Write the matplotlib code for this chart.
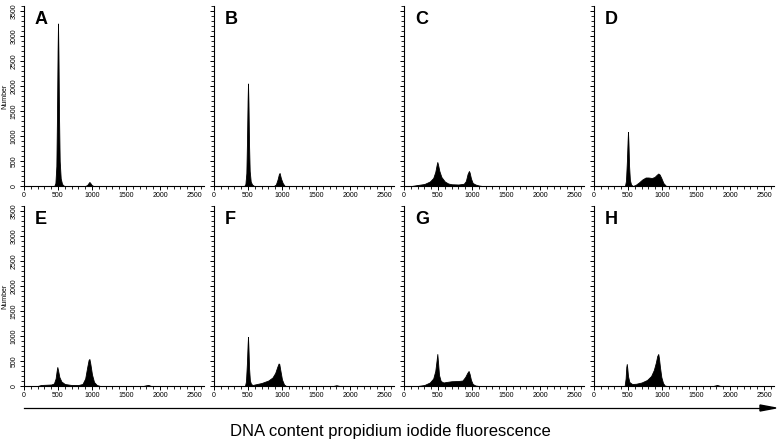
import matplotlib.pyplot as plt
from matplotlib.ticker import MultipleLocator

plt.rcParams['font.family'] = ['Liberation Sans', 'DejaVu Sans']

# Histogramas de contenido de ADN (valores estimados de la figura)
panel_labels = ['A', 'B', 'C', 'D', 'E', 'F', 'G', 'H']

A_x = [0, 445, 462, 476, 486, 494, 500, 507, 515, 525, 540, 560, 590, 900, 930, 950, 962, 975, 995, 1020, 2600]
A_y = [0, 0, 60, 400, 1500, 2700, 3250, 2600, 1400, 500, 150, 40, 0, 0, 20, 60, 80, 60, 20, 0, 0]

B_x = [0, 445, 462, 476, 486, 494, 500, 507, 515, 525, 540, 560, 590, 880, 910, 935, 955, 965, 985, 1010, 1040, 2600]
B_y = [0, 0, 40, 260, 950, 1700, 2050, 1650, 850, 300, 90, 30, 0, 0, 30, 130, 240, 260, 150, 60, 0, 0]

C_x = [0, 110, 200, 300, 380, 430, 460, 480, 490, 500, 520, 550, 600, 650, 700, 800, 880, 910, 935, 955,
       965, 985, 1010, 1050, 1100, 1150, 2600]
C_y = [0, 0, 20, 40, 90, 160, 280, 420, 480, 430, 300, 180, 90, 50, 35, 30, 45, 100, 240, 300,
       270, 150, 60, 30, 10, 0, 0]

D_x = [0, 455, 470, 484, 494, 500, 507, 516, 528, 545, 570, 610, 660, 710, 760, 800, 850, 890, 920, 945, 965,
       990, 1020, 1060, 2600]
D_y = [0, 0, 100, 500, 900, 1080, 850, 400, 120, 30, 0, 20, 70, 130, 170, 170, 160, 180, 220, 250, 230,
       160, 60, 0, 0]

E_x = [0, 200, 250, 400, 440, 465, 480, 490, 500, 520, 550, 600, 700, 800, 860, 900, 930, 950, 962, 975,
       1000, 1030, 1070, 1120, 1750, 1800, 1830, 1870, 2600]
E_y = [0, 0, 20, 30, 50, 150, 300, 380, 320, 180, 90, 40, 20, 20, 40, 150, 380, 520, 540, 450,
       230, 80, 20, 0, 0, 15, 20, 0, 0]

F_x = [0, 455, 470, 484, 494, 500, 507, 516, 528, 545, 570, 600, 700, 800, 860, 900, 930, 950, 960, 975, 1000,
       1030, 1060, 1750, 1800, 1850, 2600]
F_y = [0, 0, 90, 450, 820, 980, 750, 350, 110, 40, 20, 30, 60, 110, 170, 260, 380, 450, 440, 320, 130,
       30, 0, 0, 15, 0, 0]

G_x = [0, 200, 300, 380, 430, 460, 480, 490, 500, 515, 540, 580, 620, 700, 800, 860, 900, 930, 950, 965,
       985, 1010, 1050, 1100, 2600]
G_y = [0, 0, 20, 70, 150, 300, 520, 640, 480, 220, 100, 70, 80, 95, 100, 110, 180, 260, 300, 240,
       120, 40, 10, 0, 0]

H_x = [0, 450, 465, 475, 482, 490, 500, 520, 560, 620, 700, 780, 840, 880, 910, 930, 945, 955, 970, 990,
       1015, 1040, 1070, 1750, 1810, 1860, 2600]
H_y = [0, 0, 150, 380, 440, 350, 200, 80, 40, 45, 70, 120, 200, 320, 470, 600, 640, 560, 380, 180,
       60, 10, 0, 0, 20, 0, 0]

datos = [(A_x, A_y), (B_x, B_y), (C_x, C_y), (D_x, D_y),
         (E_x, E_y), (F_x, F_y), (G_x, G_y), (H_x, H_y)]

W, H = 778, 448
fig = plt.figure(figsize=(W / 100, H / 100), dpi=100)

col_left = [24, 214, 404, 594]
row_bottom = [186, 386]
ax_w = 179.5
ax_h = 180

for i, (xs, ys) in enumerate(datos):
    fila = i // 4
    col = i % 4
    left = col_left[col] / W
    bottom = (H - row_bottom[fila]) / H
    ax = fig.add_axes([left, bottom, ax_w / W, ax_h / H])
    ax.fill_between(xs, ys, 0, color='black', linewidth=0.6, edgecolor='black')
    ax.set_xlim(0, 2640)
    ax.set_ylim(0, 3600)
    ax.spines['top'].set_visible(False)
    ax.spines['right'].set_visible(False)
    ax.spines['left'].set_linewidth(0.8)
    ax.spines['bottom'].set_linewidth(0.8)
    ax.xaxis.set_major_locator(MultipleLocator(500))
    ax.xaxis.set_minor_locator(MultipleLocator(100))
    ax.yaxis.set_major_locator(MultipleLocator(500))
    ax.yaxis.set_minor_locator(MultipleLocator(100))
    ax.tick_params(which='major', length=3, width=0.7, labelsize=5, pad=1.5)
    ax.tick_params(which='minor', length=2, width=0.6)
    if col == 0:
        for lab in ax.get_yticklabels():
            lab.set_rotation(90)
            lab.set_va('center')
        ax.set_ylabel('Number', fontsize=5, labelpad=2)
    else:
        ax.set_yticklabels([])
    ax.text(0.06, 0.975, panel_labels[i], transform=ax.transAxes, fontsize=13,
            fontweight='bold', ha='left', va='top')

# Flecha y etiqueta del eje
fig.add_artist(plt.Line2D([24 / W, 762 / W], [1 - 408 / H, 1 - 408 / H], color='black', lw=0.9))
fig.add_artist(plt.Polygon([[760 / W, 1 - 405 / H], [776 / W, 1 - 408 / H], [760 / W, 1 - 411 / H]],
                           closed=True, color='black'))
fig.text(390 / W, 1 - 431 / H, 'DNA content propidium iodide fluorescence', fontsize=12,
         ha='center', va='center')

fig.savefig('out.png', dpi=100)
